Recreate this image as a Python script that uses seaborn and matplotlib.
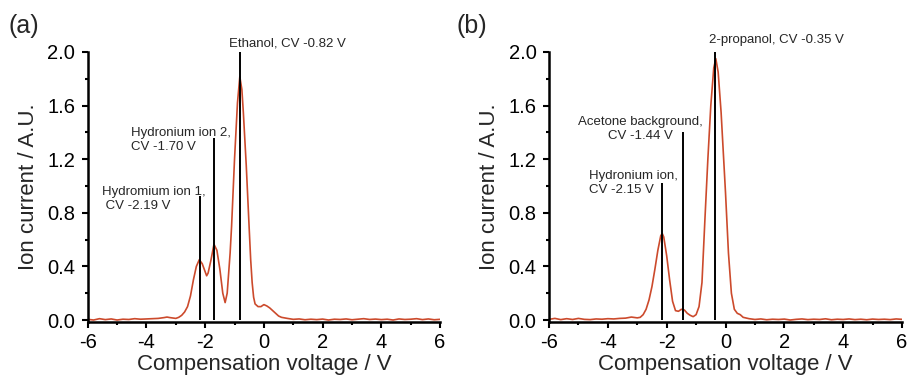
import numpy as np
import pandas as pd
import matplotlib
matplotlib.use("Agg")
import matplotlib.pyplot as plt
import seaborn as sns
from matplotlib.ticker import MultipleLocator

# ----------------------------
# DANE
# ----------------------------
cv_a = [-6.0, -5.8, -5.6, -5.4, -5.2, -5.0, -4.8, -4.6, -4.4, -4.2, -4.0, -3.8, -3.6,
        -3.4, -3.3, -3.2, -3.0, -2.9, -2.8, -2.7, -2.6, -2.5, -2.4, -2.3, -2.2, -2.1,
        -2.0, -1.95, -1.9, -1.8, -1.7, -1.6, -1.5, -1.4, -1.32, -1.25, -1.2, -1.15, -1.1,
        -1.0, -0.9, -0.82, -0.75, -0.7, -0.6, -0.5, -0.45, -0.4, -0.35, -0.3, -0.2, -0.1,
        0.0, 0.1, 0.2, 0.3, 0.4, 0.5, 0.6, 0.8, 1.0, 1.2, 1.4, 1.6, 1.8, 2.0, 2.2, 2.4,
        2.6, 2.8, 3.0, 3.2, 3.4, 3.6, 3.8, 4.0, 4.2, 4.4, 4.6, 4.8, 5.0, 5.2, 5.4, 5.6,
        5.8, 6.0]
current_a = [0.005, 0.0, 0.01, 0.003, 0.008, 0.0, 0.006, 0.004, 0.01, 0.006, 0.008, 0.01, 0.012,
             0.018, 0.022, 0.018, 0.012, 0.02, 0.035, 0.06, 0.1, 0.18, 0.3, 0.4, 0.45, 0.42,
             0.36, 0.33, 0.35, 0.45, 0.565, 0.52, 0.38, 0.2, 0.13, 0.2, 0.35, 0.5, 0.7,
             1.2, 1.62, 1.815, 1.72, 1.55, 1.15, 0.68, 0.45, 0.28, 0.17, 0.12, 0.1, 0.1,
             0.115, 0.105, 0.09, 0.07, 0.05, 0.03, 0.02, 0.012, 0.005, 0.008, 0.002, 0.006, 0.003, 0.007, 0.0, 0.006,
             0.004, 0.008, 0.002, 0.006, 0.01, 0.004, 0.007, 0.003, 0.006, 0.0, 0.008, 0.004, 0.006, 0.01, 0.003, 0.008,
             0.002, 0.005]

cv_b = [-6.0, -5.8, -5.6, -5.4, -5.2, -5.0, -4.8, -4.6, -4.4, -4.2, -4.0, -3.8, -3.6,
        -3.4, -3.2, -3.0, -2.9, -2.8, -2.7, -2.6, -2.5, -2.4, -2.3, -2.2, -2.15, -2.1,
        -2.0, -1.9, -1.8, -1.7, -1.6, -1.5, -1.4, -1.3, -1.2, -1.1, -1.0, -0.9, -0.8,
        -0.7, -0.6, -0.5, -0.4, -0.33, -0.25, -0.15, -0.05, 0.0, 0.1, 0.2, 0.3, 0.4,
        0.5, 0.6, 0.8, 1.0, 1.2, 1.4, 1.6, 1.8, 2.0, 2.2, 2.4, 2.6, 2.8, 3.0,
        3.2, 3.4, 3.6, 3.8, 4.0, 4.2, 4.4, 4.6, 4.8, 5.0, 5.2, 5.4, 5.6, 5.8, 6.0]
current_b = [0.005, 0.012, 0.003, 0.01, 0.004, 0.012, 0.005, 0.003, 0.008, 0.006, 0.01, 0.008, 0.012,
             0.014, 0.022, 0.016, 0.02, 0.04, 0.08, 0.15, 0.25, 0.38, 0.52, 0.63, 0.645, 0.62,
             0.48, 0.3, 0.14, 0.07, 0.065, 0.08, 0.075, 0.05, 0.035, 0.025, 0.04, 0.1, 0.28,
             0.75, 1.2, 1.6, 1.88, 1.95, 1.85, 1.55, 1.15, 0.95, 0.5, 0.2, 0.08, 0.05,
             0.04, 0.02, 0.01, 0.004, 0.008, 0.002, 0.006, 0.004, 0.007, 0.0, 0.005, 0.008, 0.003, 0.006,
             0.004, 0.009, 0.002, 0.006, 0.004, 0.008, 0.003, 0.006, 0.002, 0.007, 0.004, 0.006, 0.003, 0.008, 0.005]

# linie znaczników: (polozenie CV, wysokosc)
markers_a_cv = [-2.19, -1.70, -0.82]
markers_a_top = [0.925, 1.36, 2.0]
markers_b_cv = [-2.15, -1.44, -0.35]
markers_b_top = [1.025, 1.40, 2.02]

labels_a = ["Hydromium ion 1,\n CV -2.19 V", "Hydronium ion 2,\nCV -1.70 V", "Ethanol, CV -0.82 V"]
labels_b = ["Hydronium ion,\nCV -2.15 V", "Acetone background,\nCV -1.44 V", "2-propanol, CV -0.35 V"]

xticks = [-6, -4, -2, 0, 2, 4, 6]
yticks = [0.0, 0.4, 0.8, 1.2, 1.6, 2.0]

LINE_COLOR = "#cc4a2c"

sns.set_theme(style="ticks")
plt.rcParams["font.family"] = ["Liberation Sans", "DejaVu Sans"]

fig = plt.figure(figsize=(9.07, 3.82), dpi=100)
ax_a = fig.add_axes([0.0967, 0.157, 0.3885, 0.707])
ax_b = fig.add_axes([0.6053, 0.157, 0.3892, 0.707])


def draw_panel(ax, cv, cur, m_cv, m_top):
    df = pd.DataFrame({"cv": cv, "current": cur})
    sns.lineplot(data=df, x="cv", y="current", ax=ax, color=LINE_COLOR, linewidth=1.2)
    ax.vlines(m_cv, 0, m_top, colors="black", linewidth=1.4, zorder=3)
    ax.set_xlim(-6, 6)
    ax.set_ylim(-0.015, 2.0)
    ax.set_xticks(xticks)
    ax.set_xticklabels([str(t) for t in xticks])
    ax.set_yticks(yticks)
    ax.set_yticklabels([f"{t:.1f}" for t in yticks])
    ax.xaxis.set_minor_locator(MultipleLocator(1))
    ax.yaxis.set_minor_locator(MultipleLocator(0.2))
    ax.tick_params(which="major", direction="out", length=4, width=1.5, labelsize=14.5, colors="black")
    ax.tick_params(axis="x", which="major", pad=4)
    ax.tick_params(axis="y", which="major", pad=5)
    ax.tick_params(which="minor", direction="out", length=2.5, width=1.5, colors="black")
    for s in ["left", "bottom"]:
        ax.spines[s].set_linewidth(1.8)
        ax.spines[s].set_color("black")
    sns.despine(ax=ax)
    ax.set_xlabel("Compensation voltage / V", fontsize=16, labelpad=1)
    ax.set_ylabel("Ion current / A.U.", fontsize=16, labelpad=6)


draw_panel(ax_a, cv_a, current_a, markers_a_cv, markers_a_top)
draw_panel(ax_b, cv_b, current_b, markers_b_cv, markers_b_top)

# adnotacje (a)
ax_a.text(-5.52, 0.83, labels_a[0], fontsize=9.5, ha="left", va="baseline", linespacing=1.25)
ax_a.text(-4.52, 1.27, labels_a[1], fontsize=9.5, ha="left", va="baseline", linespacing=1.25)
ax_a.text(-1.19, 2.04, labels_a[2], fontsize=9.5, ha="left", va="baseline", clip_on=False)

# adnotacje (b)
ax_b.text(-4.63, 0.945, labels_b[0], fontsize=9.5, ha="left", va="baseline", linespacing=1.25)
ax_b.text(-2.9, 1.35, labels_b[1], fontsize=9.5, ha="center", va="baseline", linespacing=1.25,
          multialignment="center")
ax_b.text(-0.55, 2.065, labels_b[2], fontsize=9.5, ha="left", va="baseline", clip_on=False)

fig.text(0.009, 0.914, "(a)", fontsize=18, va="baseline", ha="left")
fig.text(0.503, 0.914, "(b)", fontsize=18, va="baseline", ha="left")

fig.savefig("out.png", dpi=100)
